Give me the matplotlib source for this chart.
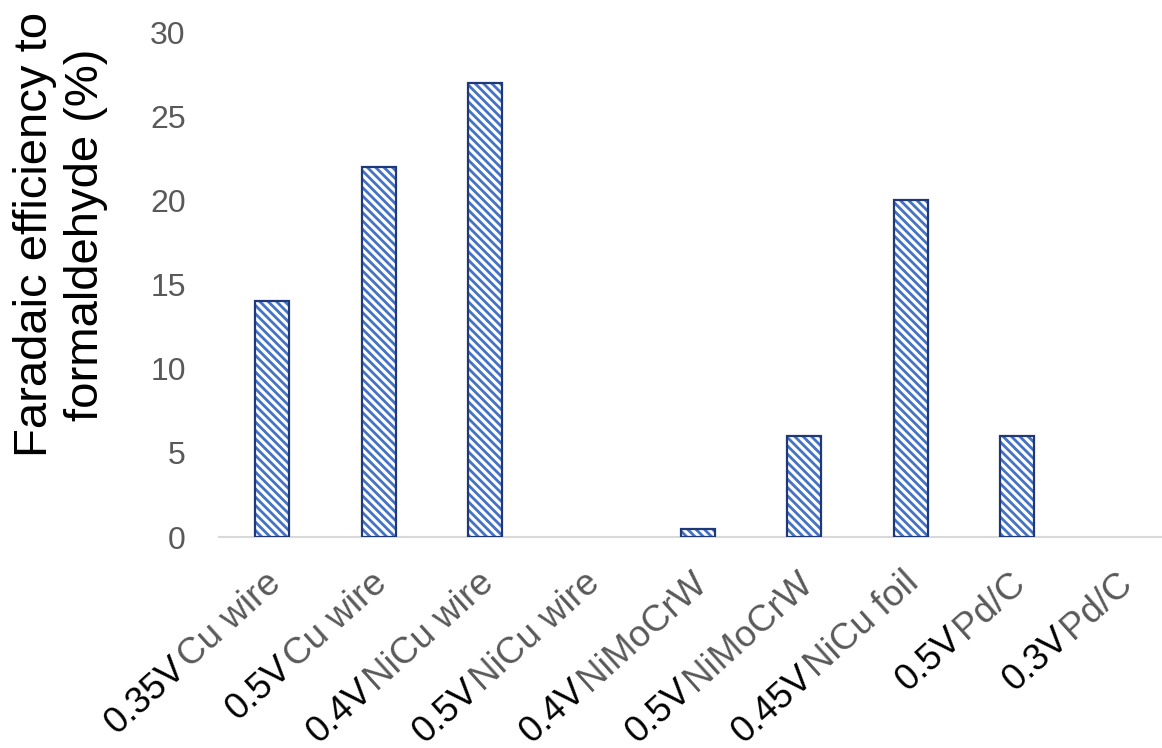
import matplotlib.pyplot as plt
from matplotlib import transforms
import numpy as np

plt.rcParams['font.family'] = ['Liberation Sans', 'DejaVu Sans']
plt.rcParams['hatch.linewidth'] = 2.0

# potential and electrode for each run, FE to formaldehyde (%)
potentials = ['0.35V', '0.5V', '0.4V', '0.5V', '0.4V', '0.5V', '0.45V', '0.5V', '0.3V']
electrodes = ['Cu wire', 'Cu wire', 'NiCu wire', 'NiCu wire', 'NiMoCrW', 'NiMoCrW',
              'NiCu foil', 'Pd/C', 'Pd/C']
fe_values = [14, 22, 27, 0, 0.5, 6, 20, 6, 0]
yticks = [0, 5, 10, 15, 20, 25, 30]

grey = '#595959'
fig = plt.figure(figsize=(11.62, 7.48), dpi=100)
ax = fig.add_axes([0.1885, 0.282, 0.824, 0.675])

x = np.arange(len(fe_values))
vals = np.array(fe_values, dtype=float)
# hatch layer, then outline on top (hatch colour follows edgecolor)
ax.bar(x, vals, width=0.32, color='white', edgecolor='#4472C4', linewidth=0,
       hatch='\\\\\\\\', zorder=2)
ax.bar(x, vals, width=0.32, fill=False, edgecolor='#1F3878',
       linewidth=np.where(vals > 0, 1.6, 0), zorder=3)

ax.set_xlim(-0.5, len(fe_values) - 0.5)
ax.set_ylim(0, 30)
ax.set_yticks(yticks)
ax.set_xticks([])
ax.tick_params(axis='y', length=0, pad=24, labelsize=23, labelcolor=grey)
for s in ['top', 'right', 'left']:
    ax.spines[s].set_visible(False)
ax.spines['bottom'].set_color('#D9D9D9')
ax.spines['bottom'].set_linewidth(1.5)

# two-colour category labels: black potential + grey electrode name
fs = 26.5
rot = 42
ox, oy = -8, -28
renderer = fig.canvas.get_renderer()
trans = transforms.blended_transform_factory(ax.transData, ax.transAxes)
for i in range(len(fe_values)):
    base = transforms.offset_copy(trans, fig, x=ox, y=oy, units='dots')
    ax.text(i, 0, electrodes[i], transform=base, rotation=rot, rotation_mode='anchor',
            ha='right', va='top', fontsize=fs, color=grey, clip_on=False)
    tmp = fig.text(0, 0, electrodes[i], fontsize=fs)
    w = tmp.get_window_extent(renderer).width + 3
    tmp.remove()
    dx = w * np.cos(np.radians(rot))
    dy = w * np.sin(np.radians(rot))
    pre = transforms.offset_copy(trans, fig, x=ox - dx, y=oy - dy, units='dots')
    ax.text(i, 0, potentials[i], transform=pre, rotation=rot, rotation_mode='anchor',
            ha='right', va='top', fontsize=fs, color='black', clip_on=False)

fig.text(0.052, 0.686, 'Faradaic efficiency to\nformaldehyde (%)', rotation=90,
         ha='center', va='center', multialignment='center', fontsize=34,
         linespacing=1.2)

fig.savefig('out.png', dpi=100)
